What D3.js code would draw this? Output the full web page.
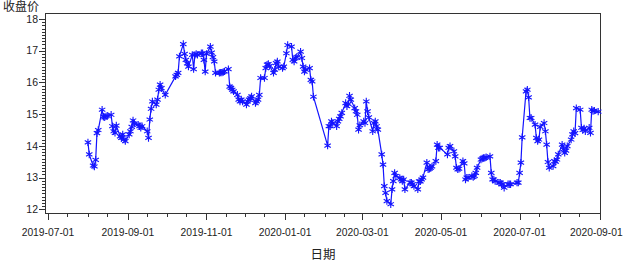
<!DOCTYPE html>
<html><head><meta charset="utf-8">
<script src="https://cdn.jsdelivr.net/npm/d3@7"></script>
<style>html,body{margin:0;padding:0;background:#fff;}svg{display:block}</style>
</head><body><svg id="chart" width="624" height="262"></svg>
<script>
// ---- data ----
const months = ["2019-08","2019-09","2019-10","2019-11","2019-12","2020-01","2020-02","2020-03","2020-04","2020-05","2020-06","2020-07","2020-08"];
const tradingDays = [
  [1,2,5,6,7,8,9,12,13,14,15,16,19,20,21,22,23,26,27,28,29,30],
  [2,3,4,5,6,9,10,11,12,16,17,18,19,20,23,24,25,26,27,30],
  [8,9,10,11,14,15,16,17,18,21,22,23,24,25,28,29,30,31],
  [1,4,5,6,7,8,11,12,13,14,15,18,19,20,21,22,25,26,27,28,29],
  [2,3,4,5,6,9,10,11,12,13,16,17,18,19,20,23,24,25,26,27,30,31],
  [2,3,6,7,8,9,10,13,14,15,16,17,20,21,22,23],
  [3,4,5,6,7,10,11,12,13,14,17,18,19,20,21,24,25,26,27,28],
  [2,3,4,5,6,9,10,11,12,13,16,17,18,19,20,23,24,25,26,27,30,31],
  [1,2,3,7,8,9,10,13,14,15,16,17,20,21,22,23,24,27,28,29,30],
  [6,7,8,11,12,13,14,15,18,19,20,21,22,25,26,27,28,29],
  [1,2,3,4,5,8,9,10,11,12,15,16,17,18,19,22,23,24,29,30],
  [1,2,3,6,7,8,9,10,13,14,15,16,17,20,21,22,23,24,27,28,29,30,31],
  [3,4,5,6,7,10,11,12,13,14,17,18,19,20,21,24,25,26,27,28,31]
];
const closePrices = [
  [14.11,13.73,13.38,13.35,13.56,14.40,14.50,15.14,14.92,14.90,14.93,14.95,14.98,14.62,14.46,14.41,14.64,14.30,14.25,14.36,14.20,14.15],
  [14.36,14.46,14.60,14.80,14.70,14.67,14.62,14.57,14.62,14.46,14.25,14.83,15.17,15.40,15.30,15.46,15.77,15.93,15.82,15.61],
  [16.19,16.24,16.30,16.82,17.21,16.90,16.71,16.60,16.50,16.87,16.42,16.87,16.90,16.87,16.92,16.92,16.71,16.34],
  [16.90,17.13,16.94,16.80,16.66,16.30,16.30,16.31,16.31,16.33,16.35,16.42,15.87,15.83,15.77,15.72,15.61,15.46,15.40,15.46,15.40],
  [15.30,15.40,15.46,15.50,15.56,15.35,15.40,15.46,15.61,16.14,16.14,16.45,16.56,16.58,16.52,16.30,16.40,16.61,16.66,16.50,16.45,16.50],
  [16.92,17.18,17.13,16.71,16.66,16.77,16.80,16.97,16.77,16.50,16.34,16.40,16.45,16.08,16.03,15.55],
  [14.01,14.62,14.62,14.77,14.72,14.62,14.77,14.85,14.93,15.04,15.35,15.25,15.32,15.58,15.46,15.19,15.09,14.98,14.51,14.65],
  [14.77,14.72,15.40,15.09,14.90,14.46,14.72,14.77,14.62,14.51,13.73,13.41,12.73,12.52,12.26,12.16,12.63,12.89,13.15,13.05,12.99,12.94],
  [12.89,12.94,12.63,12.84,12.84,12.79,12.73,12.63,12.88,12.88,12.94,13.00,13.47,13.26,13.28,13.31,13.35,13.52,14.04,13.94,13.94],
  [13.73,13.94,13.99,13.83,13.67,13.31,13.26,13.28,13.52,13.45,12.94,13.00,13.00,13.05,13.02,13.05,13.15,13.31],
  [13.57,13.60,13.62,13.62,13.64,13.67,13.15,12.94,12.94,12.89,12.84,12.84,12.79,12.79,12.68,12.79,12.79,12.79,12.84,12.84],
  [13.15,13.47,14.27,15.72,15.77,15.53,14.88,14.88,14.67,14.25,14.15,14.20,14.60,14.72,14.46,14.04,13.49,13.31,13.36,13.52,13.50,13.57,13.73],
  [14.04,13.89,13.78,13.85,13.99,14.20,14.36,14.46,14.40,15.19,15.14,14.57,14.50,14.55,14.46,14.57,14.41,15.14,15.10,15.11,15.08]
];
const yTickValues = [12,13,14,15,16,17,18];
const xTickLabels = ["2019-07-01","2019-09-01","2019-11-01","2020-01-01","2020-03-01","2020-05-01","2020-07-01","2020-09-01"];
const yTitle = "收盘价";
const xTitle = "日期";

// ---- build ----
const parse = d3.utcParse("%Y-%m-%d");
const pad = n => (n < 10 ? "0" : "") + n;
const data = [];
months.forEach((m, i) => tradingDays[i].forEach((d, j) => data.push({date: parse(m + "-" + pad(d)), value: closePrices[i][j]})));

const W = 624;
const svg = d3.select("#chart");
const L = 45, R = 601, T = 13, B = 214;
const latin = "'Liberation Sans', Arial, sans-serif";
const cjk = "'Noto Sans CJK SC', sans-serif";
const axisColor = "#333";
const blue = "#1414ff";

const x = d3.scaleUtc().domain([parse(xTickLabels[0]), parse(xTickLabels[xTickLabels.length - 1])]).range([48, 599.5]);
const y = d3.scaleLinear().domain([12, 18]).range([209.3, 19]);

// frame
svg.append("rect").attr("x", L + 0.5).attr("y", T + 0.5).attr("width", R - L - 1).attr("height", B - T - 1)
  .attr("fill", "none").attr("stroke", axisColor).attr("stroke-width", 1);

// y axis ticks
const yMinor = d3.range(120, 181).map(v => v / 10).filter(v => Math.abs(v - Math.round(v)) > 1e-6);
const gy = svg.append("g");
gy.selectAll("line.minor").data(yMinor).join("line")
  .attr("x1", L - 3).attr("x2", L).attr("y1", d => Math.round(y(d)) + 0.5).attr("y2", d => Math.round(y(d)) + 0.5)
  .attr("stroke", axisColor).attr("stroke-width", 1);
gy.selectAll("line.major").data(yTickValues).join("line")
  .attr("x1", L - 6).attr("x2", L).attr("y1", d => Math.round(y(d)) + 0.5).attr("y2", d => Math.round(y(d)) + 0.5)
  .attr("stroke", axisColor).attr("stroke-width", 1);
gy.selectAll("text").data(yTickValues).join("text")
  .attr("x", L - 7).attr("y", d => y(d)).attr("dy", "0.36em").attr("text-anchor", "end")
  .attr("font-family", latin).attr("font-size", 10.5).attr("fill", "#222").text(d => d);

// x axis ticks
const xMajor = xTickLabels.map(parse);
const xMinor = [];
d3.utcMonth.range(parse("2019-07-01"), parse("2020-09-02")).forEach(m => {
  xMinor.push(m, d3.utcDay.offset(m, 15));
});
const majorSet = new Set(xMajor.map(d => +d));
const gx = svg.append("g");
gx.selectAll("line.minor").data(xMinor.filter(d => !majorSet.has(+d) && x(d) <= R)).join("line")
  .attr("x1", d => Math.round(x(d)) + 0.5).attr("x2", d => Math.round(x(d)) + 0.5).attr("y1", B).attr("y2", B + 3)
  .attr("stroke", axisColor).attr("stroke-width", 1);
gx.selectAll("line.major").data(xMajor).join("line")
  .attr("x1", d => Math.round(x(d)) + 0.5).attr("x2", d => Math.round(x(d)) + 0.5).attr("y1", B).attr("y2", B + 6)
  .attr("stroke", axisColor).attr("stroke-width", 1);
gx.selectAll("text").data(xMajor).join("text")
  .attr("x", d => x(d)).attr("y", 236).attr("text-anchor", "middle")
  .attr("font-family", latin).attr("font-size", 10.3).attr("fill", "#222")
  .text((d, i) => xTickLabels[i])
  .each(function() {
    const bb = this.getBBox();
    if (bb.x + bb.width > W - 1) d3.select(this).attr("x", +d3.select(this).attr("x") - (bb.x + bb.width - (W - 1)));
  });

// titles
svg.append("text").attr("x", 3).attr("y", 11).attr("font-family", cjk).attr("font-size", 12).attr("fill", "#222").text(yTitle);
svg.append("text").attr("x", (L + R) / 2).attr("y", 259).attr("text-anchor", "middle")
  .attr("font-family", cjk).attr("font-size", 12.5).attr("fill", "#222").text(xTitle);

// series line
const line = d3.line().x(d => x(d.date)).y(d => y(d.value));
svg.append("path").datum(data).attr("d", line).attr("fill", "none").attr("stroke", blue).attr("stroke-width", 1.2);

// asterisk markers
const r = 3.7, t = r / 2, u = t * Math.sqrt(3);
const star = `M0,${-r}L0,${r}M${-u},${-t}L${u},${t}M${-u},${t}L${u},${-t}`;
svg.append("g").selectAll("path").data(data).join("path")
  .attr("transform", d => `translate(${x(d.date)},${y(d.value)})`)
  .attr("d", star).attr("fill", "none").attr("stroke", blue).attr("stroke-width", 1.1);
</script>
</body></html>
